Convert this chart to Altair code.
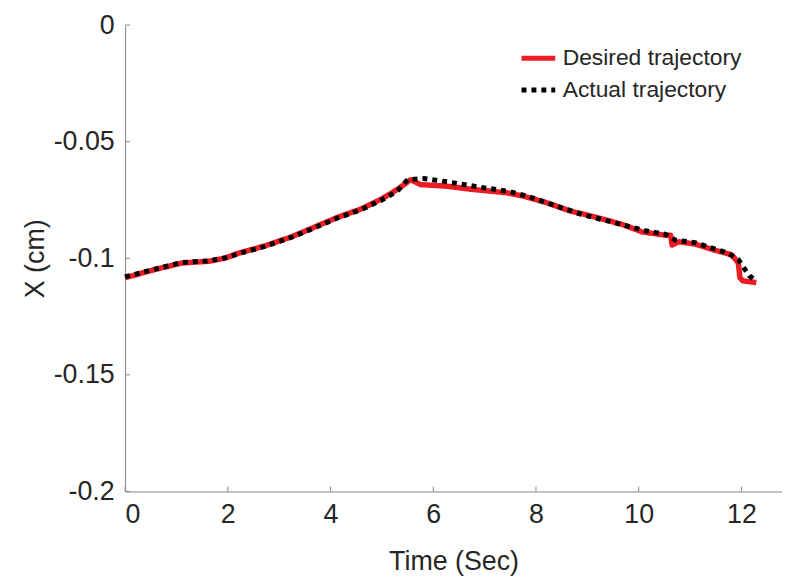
import altair as alt
import pandas as pd

# Desired trajectory (red)
t_desired = [0.00, 0.47, 0.79, 1.11, 1.63, 1.95, 2.21, 2.72, 3.24, 3.69, 4.14, 4.59,
             4.98, 5.30, 5.56, 5.75, 6.27, 6.78, 7.43, 7.75, 8.20, 8.65, 9.17, 9.68,
             10.07, 10.52, 10.62, 10.65, 10.78, 11.10, 11.49, 11.81, 11.94, 11.97,
             12.03, 12.29]
x_desired = [-0.1083, -0.1055, -0.1037, -0.1020, -0.1013, -0.0999, -0.0978, -0.0947,
             -0.0908, -0.0866, -0.0824, -0.0789, -0.0747, -0.0705, -0.0663, -0.0684,
             -0.0691, -0.0705, -0.0719, -0.0733, -0.0761, -0.0796, -0.0824, -0.0855,
             -0.0887, -0.0901, -0.0901, -0.0943, -0.0929, -0.0939, -0.0966, -0.0985,
             -0.1020, -0.1083, -0.1097, -0.1104]

# Actual trajectory (black dotted)
t_actual = [0.00, 0.47, 0.79, 1.11, 1.63, 1.95, 2.21, 2.72, 3.24, 3.69, 4.14, 4.59,
            4.98, 5.30, 5.50, 5.82, 6.27, 6.85, 7.49, 7.88, 8.33, 8.91, 9.49, 10.13,
            10.52, 10.71, 11.10, 11.74, 11.94, 12.06, 12.16, 12.29]
x_actual = [-0.1080, -0.1053, -0.1035, -0.1018, -0.1011, -0.0998, -0.0980, -0.0949,
            -0.0910, -0.0869, -0.0827, -0.0792, -0.0752, -0.0712, -0.0663, -0.0658,
            -0.0672, -0.0693, -0.0714, -0.0737, -0.0771, -0.0813, -0.0845, -0.0882,
            -0.0897, -0.0922, -0.0933, -0.0978, -0.1006, -0.1045, -0.1076, -0.1097]

series_names = ["Desired trajectory", "Actual trajectory"]
series_colors = ["#ec1c24", "#000000"]
series_dash = [[1, 0], [5, 5]]

x_ticks = [0, 2, 4, 6, 8, 10, 12]
y_ticks = [0, -0.05, -0.1, -0.15, -0.2]

W, H = 662, 470
FONT = "Liberation Sans, Arial, Helvetica, sans-serif"

df_d = pd.DataFrame({"t": t_desired, "x": x_desired, "series": series_names[0]})
df_a = pd.DataFrame({"t": t_actual, "x": x_actual, "series": series_names[1]})
df_xt = pd.DataFrame({"t": x_ticks})
df_yt = pd.DataFrame({"x": y_ticks})

xscale = alt.Scale(domain=[0, 12.79], nice=False, zero=False)
yscale = alt.Scale(domain=[-0.2, 0], nice=False, zero=False)

xaxis = alt.Axis(values=x_ticks, title="Time (Sec)", labelPadding=10, titlePadding=22)
yaxis = alt.Axis(values=y_ticks, title="X (cm)", labelPadding=11, titlePadding=4,
                 labelExpr="datum.value == 0 ? '0' : '-' + format(abs(datum.value), '')")

def make_legend():
    return alt.Legend(title=None, orient="none", legendX=397, legendY=14,
                      symbolType="stroke", symbolStrokeWidth=5, symbolSize=1156,
                      labelFontSize=23, labelFont=FONT, labelColor="#262626",
                      labelOffset=5, rowPadding=-3, padding=0, labelLimit=0)

color = alt.Color("series:N", scale=alt.Scale(domain=series_names, range=series_colors),
                  legend=make_legend())
dash = alt.StrokeDash("series:N", scale=alt.Scale(domain=series_names, range=series_dash),
                      legend=make_legend())

red = alt.Chart(df_d).mark_line(strokeWidth=5.5, strokeCap="butt", strokeJoin="round").encode(
    x=alt.X("t:Q", scale=xscale, axis=xaxis),
    y=alt.Y("x:Q", scale=yscale, axis=yaxis),
    color=color, strokeDash=dash)

black = alt.Chart(df_a).mark_line(strokeWidth=5, strokeCap="butt").encode(
    x=alt.X("t:Q", scale=xscale),
    y=alt.Y("x:Q", scale=yscale),
    color=color, strokeDash=dash)

xt = alt.Chart(df_xt).mark_rule(color="#888888", strokeWidth=1).encode(
    x=alt.X("t:Q", scale=xscale), y=alt.value(H), y2=alt.value(H - 5))
yt = alt.Chart(df_yt).mark_rule(color="#888888", strokeWidth=1).encode(
    y=alt.Y("x:Q", scale=yscale), x=alt.value(0), x2=alt.value(5))

chart = alt.layer(red, black, xt, yt).properties(
    width=W, height=H,
    autosize=alt.AutoSizeParams(type="none"),
    padding={"left": 118, "top": 15, "right": 0, "bottom": 90},
).configure_view(stroke=None).configure_axis(
    domainColor="#888888", domainWidth=1, tickSize=0, grid=False,
    labelFont=FONT, labelFontSize=27, labelColor="#262626",
    titleFont=FONT, titleFontSize=27, titleFontWeight="normal", titleColor="#262626",
)

chart.save("out.html", embed_options={"renderer": "svg", "actions": False})
